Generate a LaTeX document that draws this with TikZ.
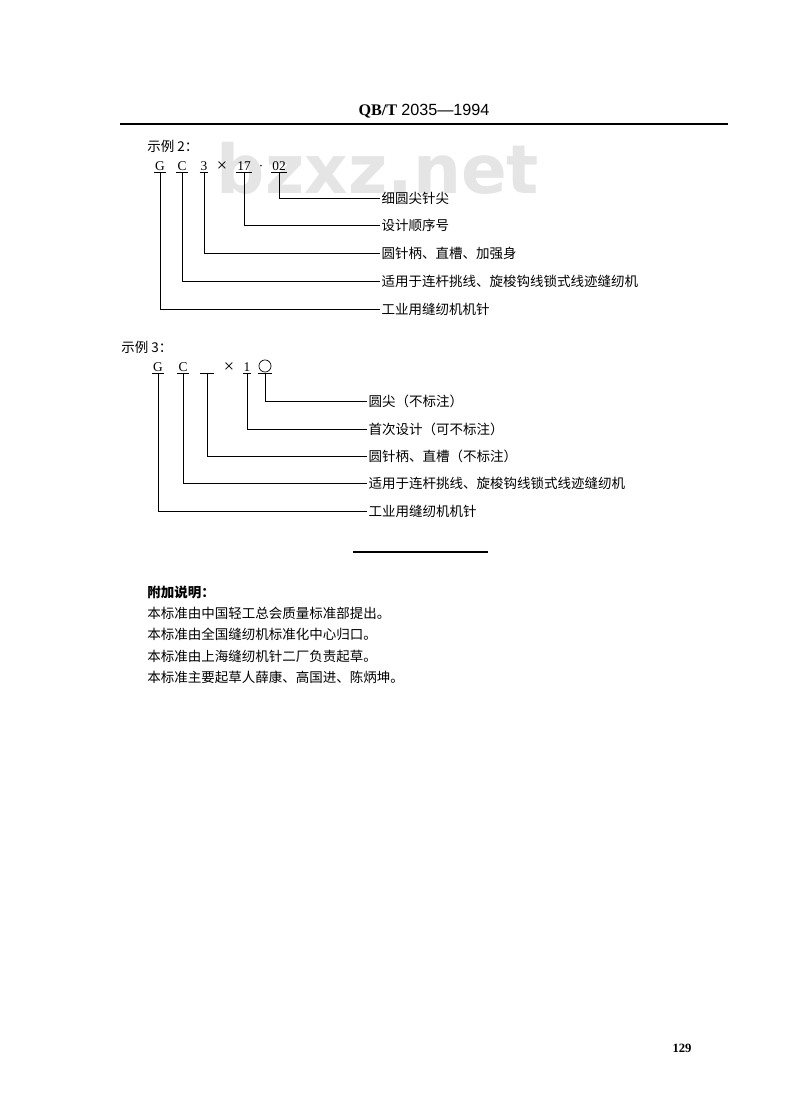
\documentclass[tikz,border=0pt]{standalone}
\usepackage{fontspec}
\setmainfont{Liberation Serif}
\newfontfamily\cjk{Noto Sans CJK SC}
\newfontfamily\hdsans{Liberation Sans}
\newfontfamily\wmfont{DejaVu Sans}

\begin{document}
\begin{tikzpicture}[x=0.025cm, y=-0.025cm,
		lead/.style={line width=0.5pt},
		codechar/.style={font=\fontsize{9.5}{11}\selectfont, inner sep=0.6pt, text height=6.5pt, text depth=0pt, anchor=south},
		timeschar/.style={codechar, font=\fontsize{13}{13}\selectfont},
		meaning/.style={font=\cjk\fontsize{9.6}{11}\selectfont, anchor=west, inner sep=1pt},
		remark/.style={font=\cjk\fontsize{9.6}{11}\selectfont, anchor=west, inner sep=0pt}]
		\fill[white] (0,0) rectangle (800,1098);
		\useasboundingbox (0,0) rectangle (800,1098);
		
		\node[font=\wmfont\bfseries\fontsize{48}{50}\selectfont, text=black!10, anchor=base] (wm) at (378,193) {bzxz.net};
		
		\node[font=\fontsize{11.5}{13}\selectfont] (head) at (424,111) {\textbf{QB/T} {\hdsans 2035—1994}};
		\draw[line width=1.1pt] (120,124) -- (728,124);
		
		% example 2
		\node[remark] (ex2) at (147,146) {示例 2：};
		
		\node[codechar] (g2) at (160,172) {G};
		\node[codechar] (c2) at (182,172) {C};
		\node[codechar] (t2) at (204,172) {3};
		\node[timeschar] (x2) at (222,173) {×};
		\node[codechar] (n2) at (244,172) {17};
		\node[codechar] (d2) at (261,172) {·};
		\node[codechar] (p2) at (279,172) {02};
		
		\node[meaning] (l2a) at (380,198) {细圆尖针尖};
		\node[meaning] (l2b) at (380,225) {设计顺序号};
		\node[meaning] (l2c) at (380,253) {圆针柄、直槽、加强身};
		\node[meaning] (l2d) at (380,281) {适用于连杆挑线、旋梭钩线锁式线迹缝纫机};
		\node[meaning] (l2e) at (380,309) {工业用缝纫机机针};
		
		\foreach \c in {g2,c2,t2,n2,p2}
			\draw[lead] (\c.south west) -- (\c.south east);
		\foreach \c/\l in {p2/l2a, n2/l2b, t2/l2c, c2/l2d, g2/l2e}
			\draw[lead] (\c.south) |- (\l.west);
		
		% example 3
		\node[remark] (ex3) at (121,347) {示例 3：};
		
		\node[codechar] (g3) at (158,373) {G};
		\node[codechar] (c3) at (183,373) {C};
		\node[codechar, minimum width=9pt] (b3) at (207,373) {};
		\node[timeschar] (x3) at (229,374) {×};
		\node[codechar] (o3) at (247,373) {1};
		\node[codechar, minimum width=9pt] (r3) at (265,373) {};
		\draw[lead] ([yshift=5pt]r3.south) circle (4.3pt);
		
		\node[meaning] (l3a) at (367,401) {圆尖（不标注）};
		\node[meaning] (l3b) at (367,429) {首次设计（可不标注）};
		\node[meaning] (l3c) at (367,456) {圆针柄、直槽（不标注）};
		\node[meaning] (l3d) at (367,483) {适用于连杆挑线、旋梭钩线锁式线迹缝纫机};
		\node[meaning] (l3e) at (367,511) {工业用缝纫机机针};
		
		\foreach \c in {g3,c3,b3,o3,r3}
			\draw[lead] (\c.south west) -- (\c.south east);
		\foreach \c/\l in {r3/l3a, o3/l3b, b3/l3c, c3/l3d, g3/l3e}
			\draw[lead] (\c.south) |- (\l.west);
		
		\draw[line width=0.9pt] (353,552) -- (488,552);
		
		% remarks
		\node[remark, font=\cjk\bfseries\fontsize{9.6}{11}\selectfont] (r0) at (147,592) {附加说明：};
		\node[remark] (r1) at (147,613) {本标准由中国轻工总会质量标准部提出。};
		\node[remark] (r2) at (147,634) {本标准由全国缝纫机标准化中心归口。};
		\node[remark] (r3) at (147,656) {本标准由上海缝纫机针二厂负责起草。};
		\node[remark] (r4) at (147,677) {本标准主要起草人薛康、高国进、陈炳坤。};
		
		\node[font=\bfseries\fontsize{9}{10}\selectfont] (page) at (682,1048) {129};
\end{tikzpicture}
\end{document}
